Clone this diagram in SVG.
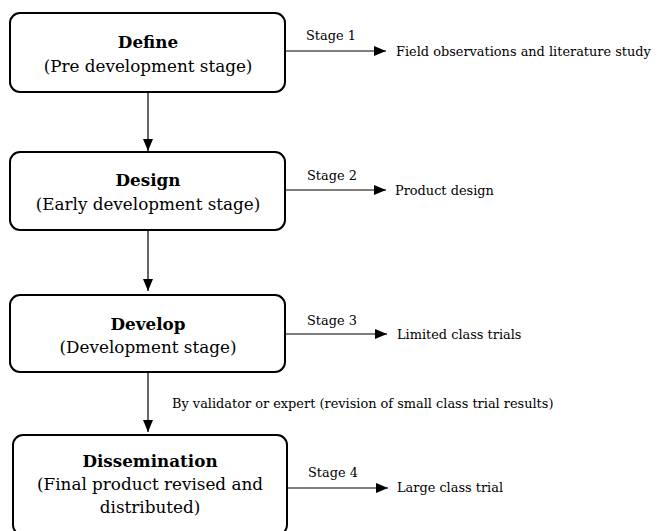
<svg xmlns="http://www.w3.org/2000/svg" width="661" height="531" viewBox="0 0 661 531">
<defs>
<marker id="ah" markerWidth="12" markerHeight="10" refX="12" refY="5" orient="auto" markerUnits="userSpaceOnUse">
<path d="M0,0 L12,5 L0,10 Z" fill="#000"/>
</marker>
<style>
.box{fill:#fff;stroke:#000;stroke-width:2}
.ln{stroke:#000;stroke-width:1.2;fill:none}
.t{font-family:"DejaVu Serif","Liberation Serif",serif;font-size:16.8px;fill:#000;text-anchor:middle}
.b{font-weight:bold}
.s{font-family:"DejaVu Serif","Liberation Serif",serif;font-size:12.9px;fill:#000}
</style>
</defs>
<rect width="661" height="531" fill="#fff"/>
<g id="connectors">
<line class="ln" x1="148" y1="92" x2="148" y2="151" marker-end="url(#ah)"/>
<line class="ln" x1="148" y1="230" x2="148" y2="291" marker-end="url(#ah)"/>
<line class="ln" x1="148" y1="372" x2="148" y2="432" marker-end="url(#ah)"/>
<line class="ln" x1="285" y1="51" x2="386" y2="51" marker-end="url(#ah)"/>
<line class="ln" x1="285" y1="190" x2="386" y2="190" marker-end="url(#ah)"/>
<line class="ln" x1="285" y1="334" x2="387" y2="334" marker-end="url(#ah)"/>
<line class="ln" x1="287" y1="488" x2="388" y2="488" marker-end="url(#ah)"/>
<text class="s" x="306" y="40">Stage 1</text>
<text class="s" x="307" y="180">Stage 2</text>
<text class="s" x="307" y="325">Stage 3</text>
<text class="s" x="308" y="477">Stage 4</text>
<text class="s" x="172" y="408">By validator or expert (revision of small class trial results)</text>
</g>
<g id="define">
<rect class="box" x="10" y="13" width="275" height="79" rx="10"/>
<text class="t b" x="148" y="48">Define</text>
<text class="t" x="148" y="72">(Pre development stage)</text>
</g>
<g id="design">
<rect class="box" x="10" y="152" width="275" height="78" rx="10"/>
<text class="t b" x="148" y="186">Design</text>
<text class="t" x="148" y="210">(Early development stage)</text>
</g>
<g id="develop">
<rect class="box" x="10" y="295" width="275" height="77" rx="10"/>
<text class="t b" x="148" y="330">Develop</text>
<text class="t" x="148" y="353">(Development stage)</text>
</g>
<g id="dissemination">
<rect class="box" x="13" y="435" width="274" height="100" rx="10"/>
<text class="t b" x="150" y="467">Dissemination</text>
<text class="t" x="150" y="490">(Final product revised and</text>
<text class="t" x="150" y="513">distributed)</text>
</g>
<g id="outputs">
<text class="s" x="396" y="56">Field observations and literature study</text>
<text class="s" x="395" y="195">Product design</text>
<text class="s" x="397" y="339">Limited class trials</text>
<text class="s" x="397" y="492">Large class trial</text>
</g>
</svg>
